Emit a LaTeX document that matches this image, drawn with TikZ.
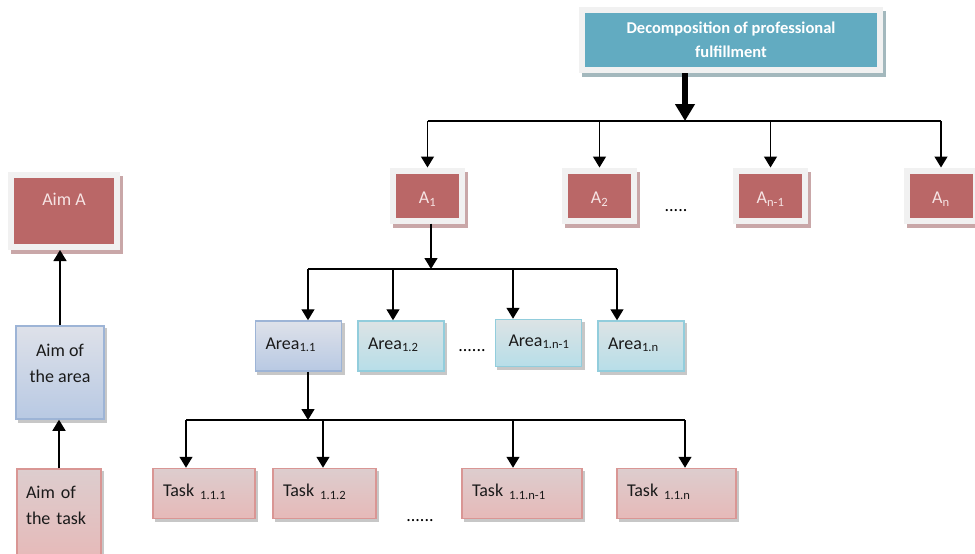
\documentclass[tikz,border=0pt]{standalone}
\usepackage{fontspec}
\setmainfont{Carlito}
\usetikzlibrary{arrows.meta}

\definecolor{dfteal}{HTML}{62ABC1}
\definecolor{dftealsh}{HTML}{A3B8BD}
\definecolor{dfred}{HTML}{BA6767}
\definecolor{dfredsh}{HTML}{C9A7A8}
\definecolor{dfframe}{HTML}{F1F1F1}
\definecolor{dflabel}{HTML}{F6E4E4}
\definecolor{dfblue}{HTML}{9DB4D6}
\definecolor{dfbluetop}{HTML}{DEE1E9}
\definecolor{dfbluebot}{HTML}{B8C9E3}
\definecolor{dfcyan}{HTML}{92CDDC}
\definecolor{dfcyantop}{HTML}{DCE3E5}
\definecolor{dfcyanbot}{HTML}{B7DEE8}
\definecolor{dfpink}{HTML}{D99694}
\definecolor{dfpinktop}{HTML}{DDCDCE}
\definecolor{dfpinkbot}{HTML}{E6B9B8}
\definecolor{dfink}{HTML}{1A1A1A}

\begin{document}
\begin{tikzpicture}[
  x=1pt,y=-1pt,
  font=\fontsize{18}{26}\selectfont,
  bus/.style={line width=1.4pt},
  arr/.style={line width=1.4pt,-{Triangle[width=13pt,length=11pt]}},
  bigarr/.style={line width=6pt,-{Triangle[width=19pt,length=17pt]}},
  framed/.style={draw=dfframe,line width=6pt,inner sep=0pt,
    preaction={draw=#1,fill=#1,line width=6pt,transform canvas={xshift=3pt,yshift=-4pt}}},
  abox/.style={framed=dfredsh,fill=dfred,text=dflabel,
    minimum width=69pt,minimum height=50pt,text height=17pt,text depth=1pt},
  soft/.style={line width=1.5pt,inner xsep=10pt,text=dfink,
    preaction={draw=#1,fill=#1,line width=1.5pt,transform canvas={xshift=2.5pt,yshift=-3pt}}},
  bluebox/.style={soft=black!22,draw=dfblue,top color=dfbluetop,bottom color=dfbluebot},
  cyanbox/.style={soft=black!22,draw=dfcyan,top color=dfcyantop,bottom color=dfcyanbot},
  pinkbox/.style={soft=black!22,draw=dfpink,top color=dfpinktop,bottom color=dfpinkbot},
  item/.style={align=left,minimum height=50pt,text height=12pt,text depth=6pt}
]
  \path[use as bounding box] (0,0) rectangle (975,554);
  % top of the tree
  \node[framed=dftealsh,fill=dfteal,text=white,align=center,
    font=\bfseries\fontsize{16.5}{24}\selectfont,
    minimum width=298pt,minimum height=60pt] (top) at (731,40)
    {Decomposition of professional\\fulfillment};
  \coordinate (bus1) at (685,121);
  \draw[bigarr] (bus1 |- top.south) -- (bus1);

  \foreach \x/\n/\s in {427.5/a1/1,599.5/a2/2,770.5/an1/n-1,941/an/n}{
    \node[abox] (\n) at (\x,195.5) {A\textsubscript{\s}};
  }
  \node (dotsA) at (676,211) {.....};
  \draw[bus] (a1.north |- bus1) -- (an.north |- bus1);
  \foreach \n in {a1,a2,an1,an}{
    \draw[arr] (\n.north |- bus1) -- (\n.north);
  }

  % areas
  \node[bluebox,item,text width=66pt] (a11) at (298.5,346) {Area\textsubscript{1.1}};
  \node[cyanbox,item,text width=66pt] (a12) at (401,346) {Area\textsubscript{1.2}};
  \node[cyanbox,item,text width=60pt,inner xsep=13pt,minimum height=47pt] (a1n1) at (538.5,343) {Area\textsubscript{1.n-1}};
  \node[cyanbox,item,text width=66pt] (a1n) at (641,346) {Area\textsubscript{1.n}};
  \node (dotsB) at (472,351) {......};
  \coordinate (bus2) at (431,269);
  \draw[arr] (bus2 |- a1.south) -- (bus2);
  \foreach \k/\x in {k11/308,k12/393,k1n1/513,k1n/617}{
    \coordinate (\k) at (\x,269);
  }
  \draw[bus] (k11) -- (k1n);
  \foreach \k/\n in {k11/a11,k12/a12,k1n1/a1n1,k1n/a1n}{
    \draw[arr] (\k) -- (\k |- \n.north);
  }

  % tasks
  \node[pinkbox,item,text width=82pt] (t111) at (204,493.5) {Task \textsubscript{1.1.1}};
  \node[pinkbox,item,text width=83pt] (t112) at (324.5,493.5) {Task \textsubscript{1.1.2}};
  \node[pinkbox,item,text width=100pt] (t11n1) at (522,493.5) {Task \textsubscript{1.1.n-1}};
  \node[pinkbox,item,text width=99pt] (t11n) at (676.5,493.5) {Task \textsubscript{1.1.n}};
  \node (dotsC) at (420,521) {......};
  \coordinate (bus3) at (308,420);
  \draw[arr] (bus3 |- a11.south) -- (bus3);
  \foreach \k/\x in {m111/186,m112/323,m11n1/513,m11n/685}{
    \coordinate (\k) at (\x,420);
  }
  \draw[bus] (m111) -- (m11n);
  \foreach \k/\n in {m111/t111,m112/t112,m11n1/t11n1,m11n/t11n}{
    \draw[arr] (\k) -- (\k |- \n.north);
  }

  % aims on the left
  \node[framed=dfredsh,fill=dfred,text=dflabel,minimum width=106pt,minimum height=72pt,
    text height=13pt,text depth=25pt] (aimA) at (64,211) {Aim A};
  \node[bluebox,align=center,minimum width=88pt,minimum height=93pt,inner xsep=2pt]
    (aimArea) at (60,372.5) {Aim of\\the area\rule[-19pt]{0pt}{19pt}};
  \node[pinkbox,align=left,text width=66pt,minimum height=93pt,inner xsep=9pt]
    (aimTask) at (59,515.5) {Aim of\\the task\rule[-21pt]{0pt}{21pt}};
  \draw[arr] (aimArea.north) -- (aimArea.north |- aimA.south);
  \draw[arr] (aimTask.north) -- (aimTask.north |- aimArea.south);
\end{tikzpicture}
\end{document}
